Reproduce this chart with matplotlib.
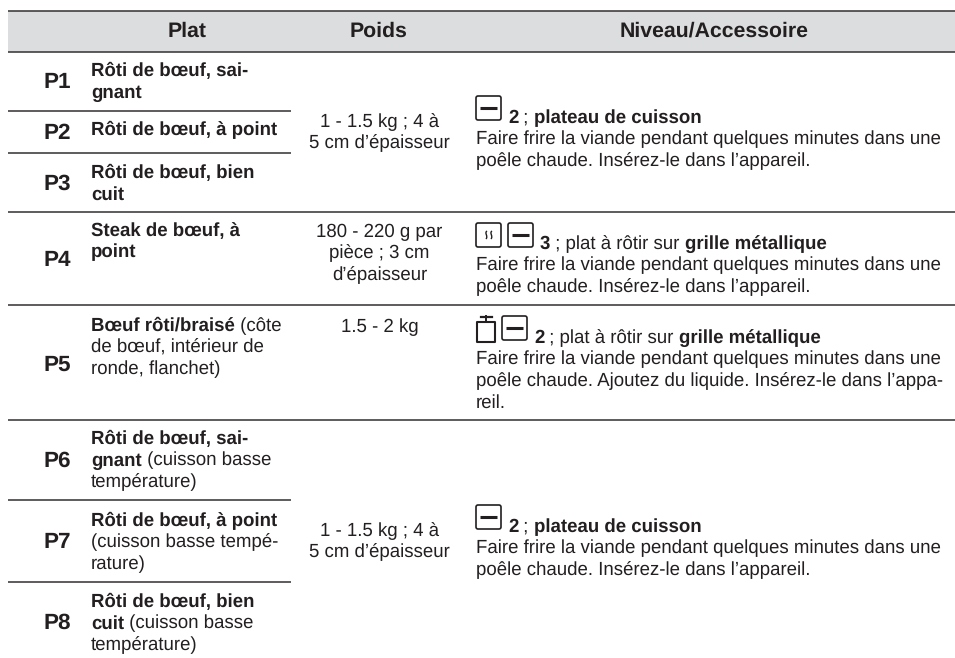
#!/usr/bin/env python3
# -*- coding: utf-8 -*-
"""Cooking programme table, drawn in pixel coordinates on one full-figure axes."""

import re

import matplotlib
matplotlib.use("Agg")
import matplotlib.pyplot as plt
from matplotlib.patches import FancyBboxPatch, PathPatch, Rectangle
from matplotlib.path import Path

WIDTH, HEIGHT = 955, 658
INK = "#231f20"
RULE = "#3a3738"
HEADER_BG = "#dcddde"
BODY_SIZE = 13.4
HEAD_SIZE = 15.3
PROG_SIZE = 16.2
PLAT_SIZE = 13.4

# table content; **...** marks bold runs
headers = ["Plat", "Poids", "Niveau/Accessoire"]
programmes = ["P1", "P2", "P3", "P4", "P5", "P6", "P7", "P8"]
plats = [
    ["**Rôti de bœuf, sai-**", "**gnant**"],
    ["**Rôti de bœuf, à point**"],
    ["**Rôti de bœuf, bien**", "**cuit**"],
    ["**Steak de bœuf, à**", "**point**"],
    ["**Bœuf rôti/braisé** (côte", "de bœuf, intérieur de", "ronde, flanchet)"],
    ["**Rôti de bœuf, sai-**", "**gnant** (cuisson basse", "température)"],
    ["**Rôti de bœuf, à point**", "(cuisson basse tempé-", "rature)"],
    ["**Rôti de bœuf, bien**", "**cuit** (cuisson basse", "température)"],
]
poids = [
    ["1 - 1.5 kg ; 4 à", "5 cm d’épaisseur"],
    ["180 - 220 g par", "pièce ; 3 cm", "d’épaisseur"],
    ["1.5 - 2 kg"],
    ["1 - 1.5 kg ; 4 à", "5 cm d’épaisseur"],
]
niveaux = [
    ["**2** ; **plateau de cuisson**",
     "Faire frire la viande pendant quelques minutes dans une",
     "poêle chaude. Insérez-le dans l’appareil."],
    ["**3** ; plat à rôtir sur **grille métallique**",
     "Faire frire la viande pendant quelques minutes dans une",
     "poêle chaude. Insérez-le dans l’appareil."],
    ["**2** ; plat à rôtir sur **grille métallique**",
     "Faire frire la viande pendant quelques minutes dans une",
     "poêle chaude. Ajoutez du liquide. Insérez-le dans l’appa-",
     "reil."],
    ["**2** ; **plateau de cuisson**",
     "Faire frire la viande pendant quelques minutes dans une",
     "poêle chaude. Insérez-le dans l’appareil."],
]

# layout, pixels from the top left
header_x = [187, 379, 714]
prog_base = [88, 139, 190, 266, 371, 467, 548, 629]
plat_base = [76, 135, 178, 236, 331, 444, 526, 607]
poids_base = [127, 237, 332, 536]
niveau_base = [123, 249, 343, 532]
niveau_text_x = [508, 540, 534, 508]
full_rules = [11, 51.5, 211.5, 305, 420]
short_rules = [110.5, 152.5, 500, 581.5]


def text_width(ax, s, **kw):
    """Advance width of a run, trailing spaces included."""
    probe = ax.text(0, 0, s + ".", **kw)
    dot = ax.text(0, 0, ".", **kw)
    r = ax.figure.canvas.get_renderer()
    w = probe.get_window_extent(r).width - dot.get_window_extent(r).width
    probe.remove()
    dot.remove()
    return w


def rich_line(ax, x, y, line, size):
    for part in re.split(r"(\*\*.*?\*\*)", line):
        if not part:
            continue
        bold = part.startswith("**")
        s = part.strip("*")
        kw = dict(fontsize=size, color=INK, va="baseline", ha="left",
                  fontweight="bold" if bold else "normal")
        ax.text(x, y, s, **kw)
        x += text_width(ax, s, **kw)


def box(ax, x, y, w=25, h=24):
    ax.add_patch(FancyBboxPatch((x + 1, y + 1), w - 2, h - 2,
                                boxstyle="round,pad=1,rounding_size=2",
                                fc="white", ec=INK, lw=1.2))


def oven_icon(ax, x, y):
    box(ax, x, y)
    ax.plot([x + 4, x + 21], [y + 12, y + 12], color=INK, lw=2.2,
            solid_capstyle="butt")


def steam_icon(ax, x, y):
    box(ax, x, y)
    for dx in (10, 15):
        x0 = x + dx
        verts = [(x0 + 1, y + 8), (x0 - 2, y + 10), (x0 + 2.5, y + 13),
                 (x0, y + 16)]
        codes = [Path.MOVETO, Path.CURVE4, Path.CURVE4, Path.CURVE4]
        ax.add_patch(PathPatch(Path(verts, codes), fc="none", ec=INK, lw=1.0))


def pot_icon(ax, x, y):
    ax.add_patch(Rectangle((x + 0.8, y + 6), 18.6, 19.5, fc="white", ec=INK,
                           lw=1.5, joinstyle="round"))
    ax.plot([x + 10, x + 10], [y, y + 6], color=INK, lw=1.4)
    ax.plot([x + 4.5, x + 15.5], [y + 0.5, y + 0.5], color=INK, lw=1.6)


def main() -> None:
    plt.rcParams["font.family"] = ["Liberation Sans", "DejaVu Sans"]
    plt.rcParams["text.hinting"] = "no_hinting"
    fig = plt.figure(figsize=(WIDTH / 100, HEIGHT / 100), dpi=100)
    ax = fig.add_axes([0, 0, 1, 1])
    ax.set_xlim(0, WIDTH)
    ax.set_ylim(HEIGHT, 0)
    ax.axis("off")

    ax.add_patch(Rectangle((8, 11), WIDTH - 8, 40.5, fc=HEADER_BG, ec="none"))
    for y in full_rules:
        ax.plot([8, WIDTH], [y, y], color=RULE, lw=1.15, solid_capstyle="butt")
    for y in short_rules:
        ax.plot([8, 290.5], [y, y], color=RULE, lw=1.15, solid_capstyle="butt")

    for label, x in zip(headers, header_x):
        ax.text(x, 37, label, fontsize=HEAD_SIZE, fontweight="bold", color=INK,
                ha="center", va="baseline")

    for label, y in zip(programmes, prog_base):
        ax.text(43, y, label, fontsize=PROG_SIZE, fontweight="bold", color=INK,
                va="baseline")

    for lines, y in zip(plats, plat_base):
        for i, line in enumerate(lines):
            rich_line(ax, 91, y + i * 21.5, line, PLAT_SIZE)

    for lines, y in zip(poids, poids_base):
        for i, line in enumerate(lines):
            ax.text(379.5, y + i * 21.5, line, fontsize=BODY_SIZE, color=INK,
                    ha="center", va="baseline")

    for lines, y, x in zip(niveaux, niveau_base, niveau_text_x):
        rich_line(ax, x, y, lines[0], BODY_SIZE)
        for i, line in enumerate(lines[1:], start=1):
            rich_line(ax, 476, y + i * 21.5, line, BODY_SIZE)

    oven_icon(ax, 476, 96)
    steam_icon(ax, 476, 223)
    oven_icon(ax, 508, 223)
    pot_icon(ax, 476, 316)
    oven_icon(ax, 502, 316)
    oven_icon(ax, 476, 505)

    fig.savefig("out.png", dpi=100)
    plt.close(fig)


if __name__ == "__main__":
    main()
